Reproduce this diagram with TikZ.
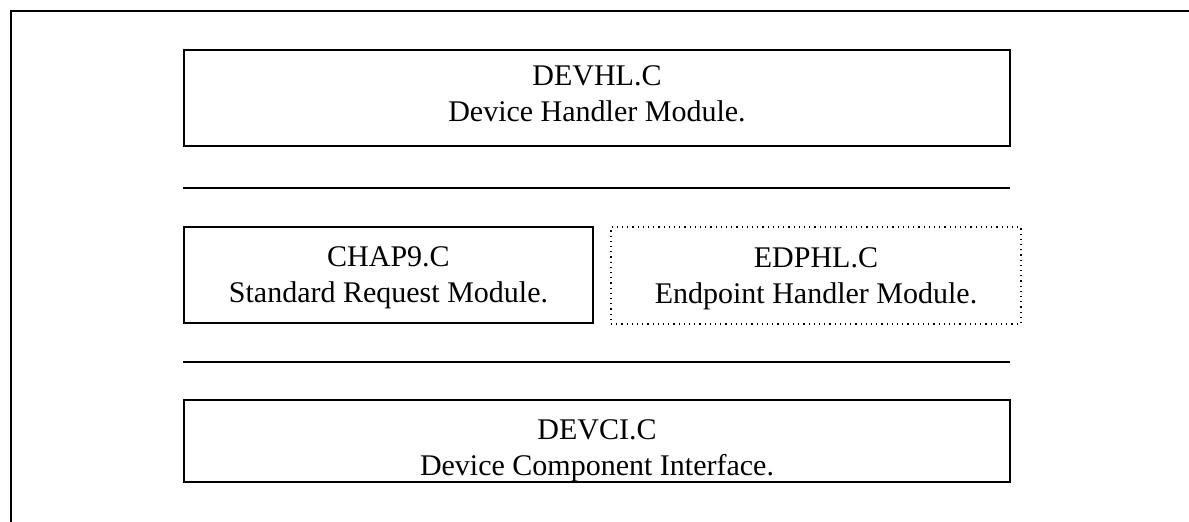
\documentclass[tikz,border=0pt]{standalone}
\usepackage{fontspec}
\setmainfont{Liberation Serif}
\usetikzlibrary{positioning}

\tikzset{
	modbox/.style={draw,line width=1pt,inner sep=0pt},
	dotbox/.style={modbox,line width=0.6pt,dotted},
	modtext/.style={align=center,inner sep=0pt,font=\fontsize{15}{18}\selectfont},
	sepline/.style={line width=1pt}
}

\begin{document}
\begin{tikzpicture}[x=0.5pt,y=-0.5pt]
	    	\useasboundingbox (0,0) rectangle (1189,522);
	    	\draw[line width=0.8pt] (11,522) -- (11,11) -- (1189,11);
	    	\node[modbox,minimum width=413pt,minimum height=48pt] (devhl) at (597,98) {};
	    	\node[modbox,minimum width=204.5pt,minimum height=48pt] (chap) at (388.5,275) {};
	    	\node[dotbox,minimum width=205pt,minimum height=48.5pt] (edphl) at (816,275.5) {};
	    	\node[modbox,minimum width=413pt,minimum height=41pt] (devci) at (597,441) {};
	    	\node[modtext] (devhltxt) at ([yshift=2pt]devhl.center) {DEVHL.C\\Device Handler Module.};
	    	\node[modtext] (chaptxt) at ([yshift=-1.5pt]chap.center) {CHAP9.C\\Standard Request Module.};
	    	\node[modtext] (edphltxt) at ([yshift=-1.5pt]edphl.center) {EDPHL.C\\Endpoint Handler Module.};
	    	\node[modtext] (devcitxt) at ([yshift=-5pt]devci.center) {DEVCI.C\\Device Component Interface.};
	    	\coordinate (sepAl) at (183,188);
	    	\coordinate (sepAr) at (1010,188);
	    	\coordinate (sepBl) at (183,362);
	    	\coordinate (sepBr) at (1010,362);
	    	\draw[sepline] (sepAl) -- (sepAr);
	    	\draw[sepline] (sepBl) -- (sepBr);
	    	\end{tikzpicture}
\end{document}
